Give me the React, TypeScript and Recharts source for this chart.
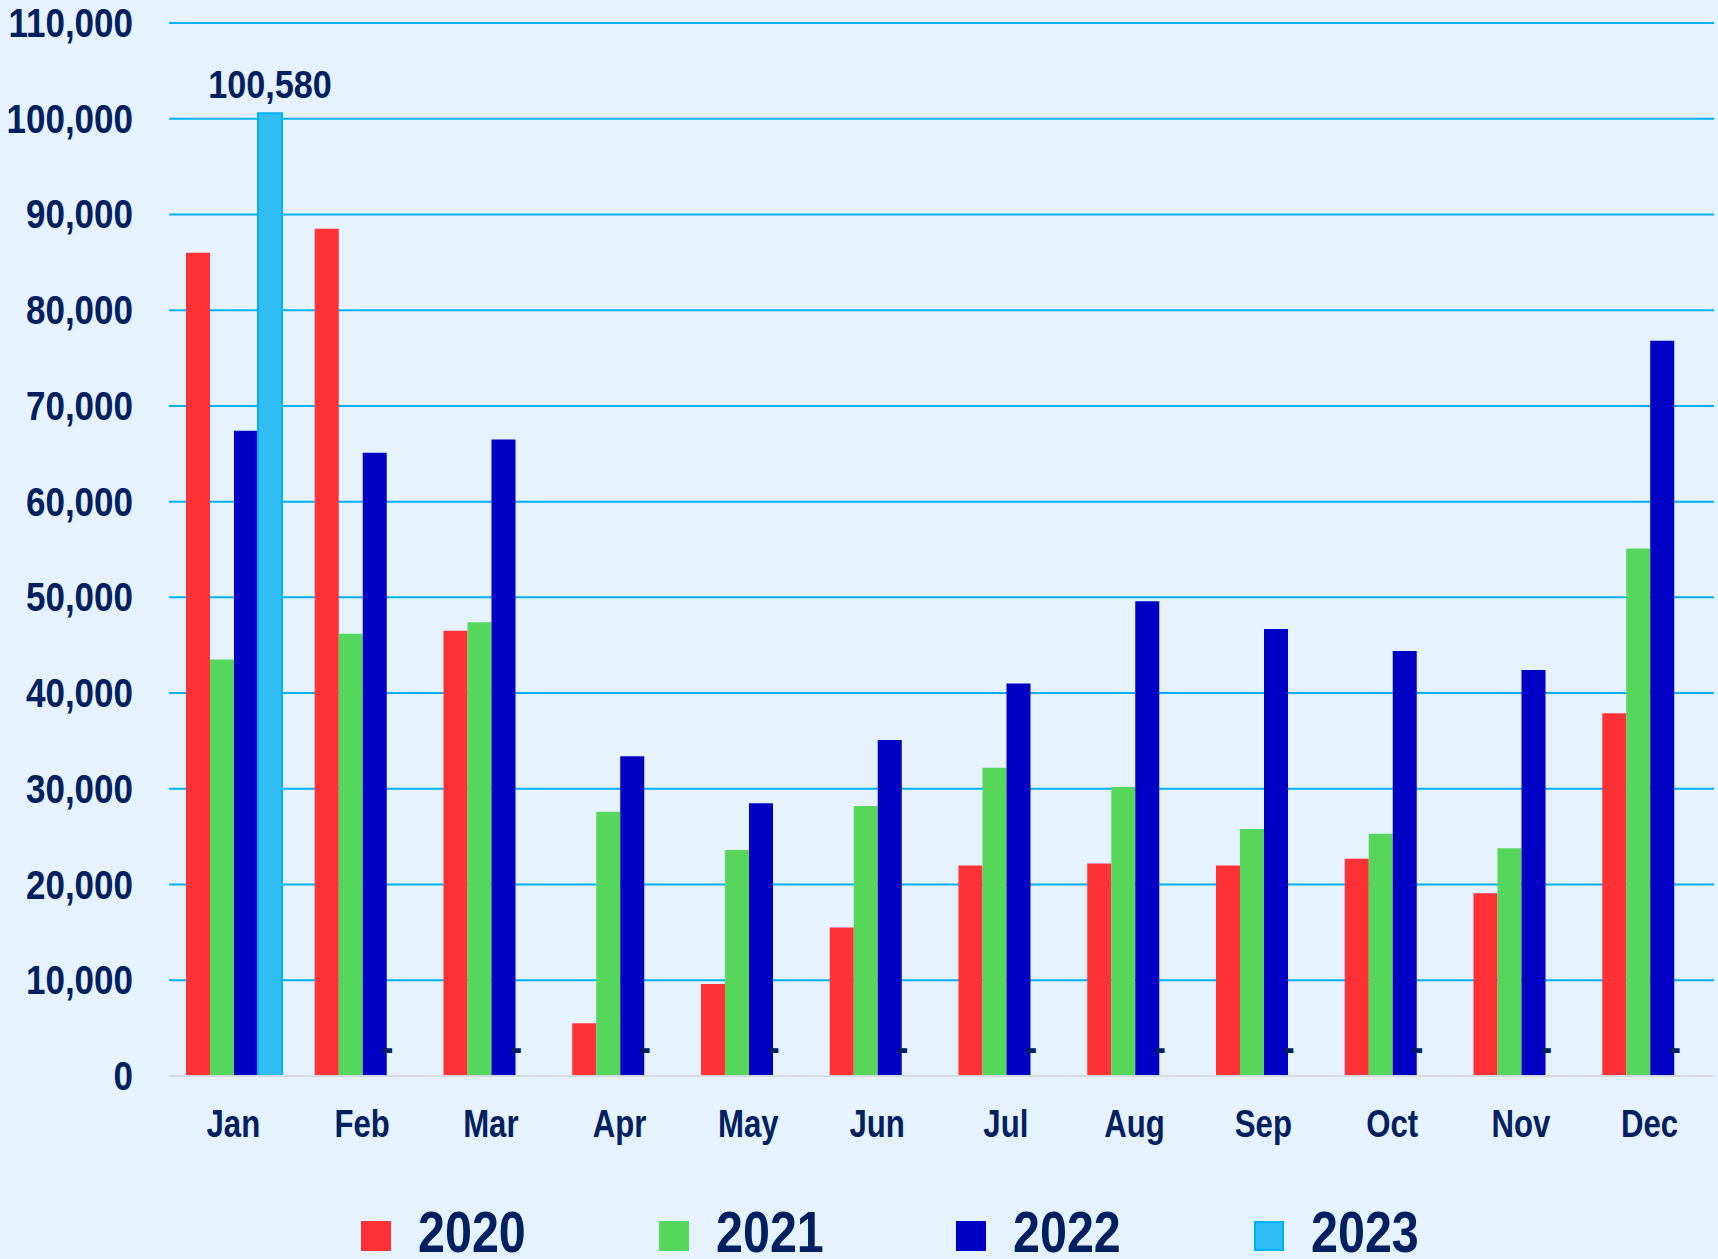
import React from 'react';
import { BarChart, Bar, XAxis, YAxis, CartesianGrid, LabelList, Cell } from 'recharts';

const months = ['Jan', 'Feb', 'Mar', 'Apr', 'May', 'Jun', 'Jul', 'Aug', 'Sep', 'Oct', 'Nov', 'Dec'];
const y2020 = [86000, 88500, 46500, 5500, 9600, 15500, 22000, 22200, 22000, 22700, 19100, 37900];
const y2021 = [43500, 46200, 47400, 27600, 23600, 28200, 32200, 30200, 25800, 25300, 23800, 55100];
const y2022 = [67400, 65100, 66500, 33400, 28500, 35100, 41000, 49600, 46700, 44400, 42400, 76800];
const y2023 = [100580, 0, 0, 0, 0, 0, 0, 0, 0, 0, 0, 0];
const yTicks = [0, 10000, 20000, 30000, 40000, 50000, 60000, 70000, 80000, 90000, 100000, 110000];

const series = [
  { key: 'y2020', name: '2020', fill: '#fd3136' },
  { key: 'y2021', name: '2021', fill: '#57d65c' },
  { key: 'y2022', name: '2022', fill: '#0000c4' },
  { key: 'y2023', name: '2023', fill: '#30bef2', stroke: '#00b0f0' },
];

const data = months.map((m, i) => ({
  month: m,
  y2020: y2020[i],
  y2021: y2021[i],
  y2022: y2022[i],
  y2023: y2023[i],
}));

const NAVY = '#002060';
const FONT = "'Liberation Sans', Arial, sans-serif";
const fmt = (v: number) => v.toLocaleString('en-US');

// bold text squeezed horizontally around its anchor point (narrow look)
const Narrow = ({ x, y, size, anchor, squeeze = 0.82, children }: any) => (
  <text
    transform={`translate(${x},${y}) scale(${squeeze},1)`}
    textAnchor={anchor}
    fill={NAVY}
    fontFamily={FONT}
    fontWeight="bold"
    fontSize={size}
  >
    {children}
  </text>
);

const YTick = ({ y, payload }: any) => (
  <Narrow x={133} y={y + 14} size={40} anchor="end" squeeze={0.875}>
    {fmt(payload.value)}
  </Narrow>
);

const XTick = ({ x, payload }: any) => (
  <Narrow x={x} y={1137} size={38} anchor="middle">
    {payload.value}
  </Narrow>
);

// accounting style: zero shows as a dash sitting left of the slot centre
const ValueLabel = ({ x, y, width, height, value }: any) => {
  const zero = !value;
  const top = Math.min(y, y + (height || 0));
  return (
    <Narrow x={x + width / 2 + (zero ? -11 : 0)} y={top - 15} size={38} anchor="middle" squeeze={0.9}>
      {zero ? '-' : fmt(value)}
    </Narrow>
  );
};

export default function App() {
  return (
    <div style={{ position: 'absolute', left: 0, top: 0, width: 1718, height: 1259, background: '#e6f2fe', overflow: 'hidden' }}>
      <BarChart
        width={1718}
        height={1259}
        data={data}
        margin={{ top: 23, right: 4, bottom: 0, left: 0 }}
        barCategoryGap={17}
        barGap={0}
      >
        <CartesianGrid horizontal vertical={false} stroke="#00b0f0" strokeWidth={2} />
        <XAxis
          dataKey="month"
          height={183}
          tickLine={false}
          axisLine={{ stroke: '#d4d9de', strokeWidth: 2 }}
          tick={<XTick />}
          interval={0}
        />
        <YAxis
          width={169}
          domain={[0, 110000]}
          ticks={yTicks}
          axisLine={false}
          tickLine={false}
          tick={<YTick />}
          interval={0}
        />
        {series.map((s) => (
          <Bar
            key={s.key}
            dataKey={s.key}
            name={s.name}
            fill={s.fill}
            minPointSize={s.stroke ? 0.5 : 0}
            isAnimationActive={false}
          >
            {s.stroke &&
              y2023.map((v, i) => (
                <Cell
                  key={i}
                  fill={v > 0 ? s.fill : 'none'}
                  stroke={v > 0 ? s.stroke : 'none'}
                  strokeWidth={2}
                />
              ))}
            {s.stroke && <LabelList dataKey={s.key} content={<ValueLabel />} />}
          </Bar>
        ))}
      </BarChart>
      <div style={{ position: 'absolute', left: 0, top: 1205, width: 1718, height: 60 }}>
        {series.map((s, i) => (
          <div key={s.key} style={{ position: 'absolute', left: 361 + i * 297.5, top: 0, height: 60 }}>
            <div
              style={{
                position: 'absolute',
                left: 0,
                top: 16,
                width: 30,
                height: 30,
                background: s.fill,
                boxSizing: 'border-box',
                border: s.stroke ? `2px solid ${s.stroke}` : 'none',
              }}
            />
            <div
              style={{
                position: 'absolute',
                left: 57,
                top: -6,
                fontFamily: FONT,
                fontWeight: 'bold',
                fontSize: 57,
                lineHeight: '66px',
                color: NAVY,
                whiteSpace: 'nowrap',
                transform: 'scaleX(0.85)',
                transformOrigin: 'left center',
              }}
            >
              {s.name}
            </div>
          </div>
        ))}
      </div>
    </div>
  );
}
